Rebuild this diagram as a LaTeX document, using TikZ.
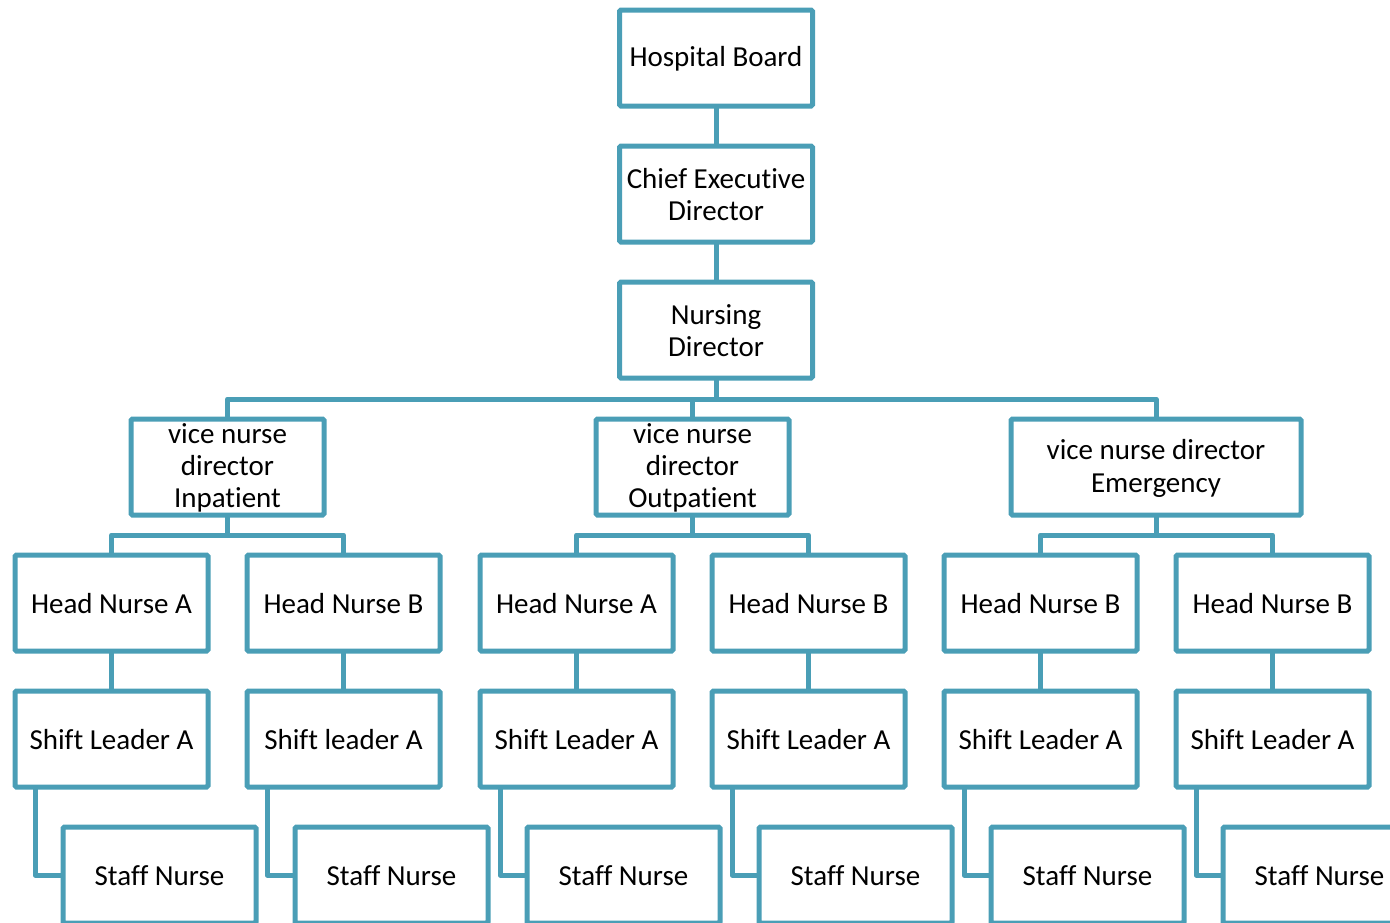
\documentclass[tikz,border=0pt]{standalone}
\usepackage{fontspec}
\setmainfont{Carlito}[Ligatures=NoCommon]
\usetikzlibrary{calc}
\definecolor{orgline}{RGB}{74,158,182}
\begin{document}
\begin{tikzpicture}[x=1pt,y=1pt,
  orgbox/.style={draw=orgline, line width=5pt, rounded corners=1.5pt, fill=white,
    minimum width=193pt, minimum height=96pt, inner sep=0pt, outer sep=0pt,
    label={[font=\fontsize{29}{32}\selectfont, align=center, inner sep=0pt,
      yshift=-1pt]center:#1}},
  link/.style={draw=orgline, line width=5pt, line join=round}]
\useasboundingbox (0,0) rectangle (1390,-922);
\clip (0,0) rectangle (1390,-922);

% top chain
\node[orgbox={Hospital Board}] (hb)  at (716,-58)  {};
\node[orgbox={Chief Executive\\Director}] (ced) at (716,-194) {};
\node[orgbox={Nursing\\Director}] (nd)  at (716,-330) {};

% vice nurse directors
\node[orgbox={vice nurse\\director\\Inpatient}] (vi) at (227.5,-467) {};
\node[orgbox={vice nurse\\director\\Outpatient}] (vo) at (692.5,-467) {};
\node[orgbox={vice nurse director\\[1pt]Emergency}, minimum width=290pt] (ve) at (1156,-467) {};

% head nurses
\node[orgbox={Head Nurse A}] (hn1) at (111.5,-603)  {};
\node[orgbox={Head Nurse B}] (hn2) at (343.5,-603)  {};
\node[orgbox={Head Nurse A}] (hn3) at (576.5,-603)  {};
\node[orgbox={Head Nurse B}] (hn4) at (808.5,-603)  {};
\node[orgbox={Head Nurse B}] (hn5) at (1040.5,-603) {};
\node[orgbox={Head Nurse B}] (hn6) at (1272.5,-603) {};

% shift leaders
\node[orgbox={Shift Leader A}] (sl1) at (111.5,-739)  {};
\node[orgbox={Shift leader A}] (sl2) at (343.5,-739)  {};
\node[orgbox={Shift Leader A}] (sl3) at (576.5,-739)  {};
\node[orgbox={Shift Leader A}] (sl4) at (808.5,-739)  {};
\node[orgbox={Shift Leader A}] (sl5) at (1040.5,-739) {};
\node[orgbox={Shift Leader A}] (sl6) at (1272.5,-739) {};

% staff nurses
\node[orgbox={Staff Nurse}] (sn1) at (159.5,-875)  {};
\node[orgbox={Staff Nurse}] (sn2) at (391.5,-875)  {};
\node[orgbox={Staff Nurse}] (sn3) at (623.5,-875)  {};
\node[orgbox={Staff Nurse}] (sn4) at (855.5,-875)  {};
\node[orgbox={Staff Nurse}] (sn5) at (1087.5,-875) {};
\node[orgbox={Staff Nurse}] (sn6) at (1319.5,-875) {};

% bus lines between levels
\coordinate (bus) at (716,-399);
\coordinate (busi) at (227.5,-535);
\coordinate (buso) at (692.5,-535);
\coordinate (buse) at (1156,-535);

% vertical chain
\path[link] (hb.south) -- (ced.north);
\path[link] (ced.south) -- (nd.north);
\path[link] (nd.south) -- (bus);
\path[link] (vi.north) |- (bus) -| (ve.north);
\path[link] (vo.north) -- (vo.north |- bus);

% head nurse pairs
\path[link] (vi.south) -- (busi);
\path[link] (hn1.north) |- (busi) -| (hn2.north);
\path[link] (vo.south) -- (buso);
\path[link] (hn3.north) |- (buso) -| (hn4.north);
\path[link] (ve.south) -- (buse);
\path[link] (hn5.north) |- (buse) -| (hn6.north);

% head nurse to shift leader, shift leader to staff nurse
\foreach \i in {1,...,6}{
  \path[link] (hn\i.south) -- (sl\i.north);
  \path[link] ($(sl\i.south)+(-76.5,0)$) |- (sn\i.west);
}
\end{tikzpicture}
\end{document}
